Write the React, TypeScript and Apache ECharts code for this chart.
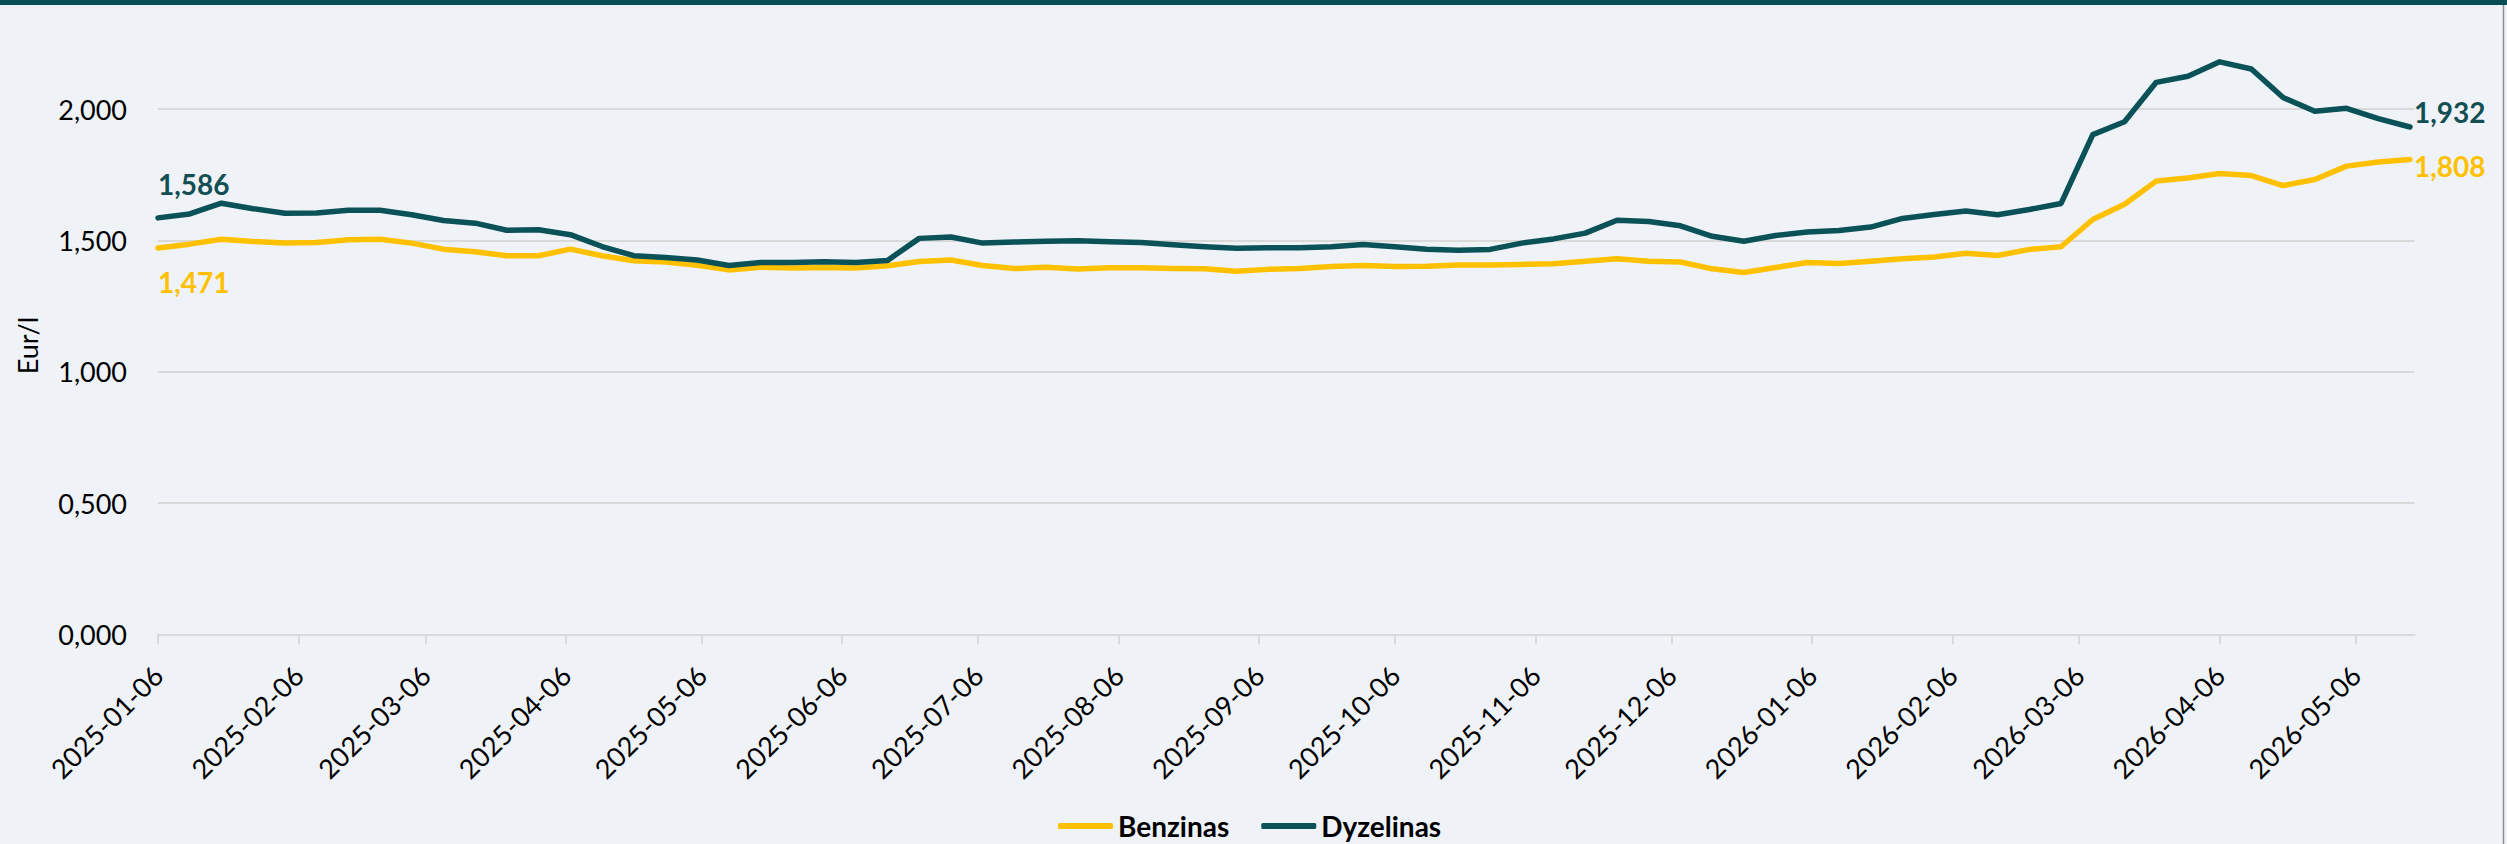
import React, { useEffect, useRef } from "react";
import * as echarts from "echarts";

// Weekly observation dates (Mondays)
const dates: string[] = [
  "2025-01-06", "2025-01-13", "2025-01-20", "2025-01-27", "2025-02-03", "2025-02-10", "2025-02-17", "2025-02-24",
  "2025-03-03", "2025-03-10", "2025-03-17", "2025-03-24", "2025-03-31", "2025-04-07", "2025-04-14", "2025-04-21",
  "2025-04-28", "2025-05-05", "2025-05-12", "2025-05-19", "2025-05-26", "2025-06-02", "2025-06-09", "2025-06-16",
  "2025-06-23", "2025-06-30", "2025-07-07", "2025-07-14", "2025-07-21", "2025-07-28", "2025-08-04", "2025-08-11",
  "2025-08-18", "2025-08-25", "2025-09-01", "2025-09-08", "2025-09-15", "2025-09-22", "2025-09-29", "2025-10-06",
  "2025-10-13", "2025-10-20", "2025-10-27", "2025-11-03", "2025-11-10", "2025-11-17", "2025-11-24", "2025-12-01",
  "2025-12-08", "2025-12-15", "2025-12-22", "2025-12-29", "2026-01-05", "2026-01-12", "2026-01-19", "2026-01-26",
  "2026-02-02", "2026-02-09", "2026-02-16", "2026-02-23", "2026-03-02", "2026-03-09", "2026-03-16", "2026-03-23",
  "2026-03-30", "2026-04-06", "2026-04-13", "2026-04-20", "2026-04-27", "2026-05-04", "2026-05-11", "2026-05-18",
];

const benzinas: number[] = [
  1.471, 1.486, 1.505, 1.496, 1.49, 1.492, 1.503, 1.505, 1.49, 1.467, 1.457, 1.442, 1.442, 1.467, 1.442, 1.423,
  1.418, 1.406, 1.388, 1.398, 1.395, 1.397, 1.395, 1.404, 1.42, 1.426, 1.405, 1.393, 1.398, 1.391, 1.396, 1.396,
  1.393, 1.392, 1.383, 1.39, 1.393, 1.401, 1.405, 1.401, 1.402, 1.407, 1.407, 1.409, 1.411, 1.421, 1.43, 1.421,
  1.418, 1.392, 1.378, 1.397, 1.416, 1.412, 1.421, 1.43, 1.437, 1.451, 1.443, 1.466, 1.476, 1.58, 1.638, 1.726,
  1.738, 1.755, 1.747, 1.709, 1.732, 1.783, 1.799, 1.808,
];

const dyzelinas: number[] = [
  1.586, 1.601, 1.642, 1.621, 1.604, 1.605, 1.615, 1.615, 1.598, 1.576, 1.566, 1.539, 1.541, 1.522, 1.477, 1.442,
  1.435, 1.426, 1.405, 1.416, 1.416, 1.419, 1.416, 1.424, 1.508, 1.513, 1.49, 1.494, 1.497, 1.499, 1.495, 1.492,
  1.484, 1.476, 1.47, 1.472, 1.472, 1.476, 1.485, 1.476, 1.467, 1.463, 1.466, 1.49, 1.506, 1.528, 1.577, 1.572,
  1.556, 1.516, 1.497, 1.519, 1.532, 1.538, 1.551, 1.584, 1.599, 1.612, 1.598, 1.618, 1.641, 1.903, 1.952, 2.102,
  2.125, 2.18, 2.153, 2.044, 1.992, 2.003, 1.964, 1.932,
];

const tickDates: string[] = [
  "2025-01-06", "2025-02-06", "2025-03-06", "2025-04-06", "2025-05-06", "2025-06-06", "2025-07-06", "2025-08-06",
  "2025-09-06", "2025-10-06", "2025-11-06", "2025-12-06", "2026-01-06", "2026-02-06", "2026-03-06", "2026-04-06",
  "2026-05-06",
];

const axisStart = "2025-01-06";
const axisEnd = "2026-05-19";

const seriesNames = ["Benzinas", "Dyzelinas"];
const BENZ_COLOR = "#FFC000";
const DYZ_COLOR = "#0B5258";
const DYZ_LABEL = "#124E52";
const FONT = "Lato";

const toMs = (s: string) => {
  const [y, m, d] = s.split("-").map(Number);
  return new Date(y, m - 1, d).getTime();
};
const pad = (n: number) => (n < 10 ? "0" + n : "" + n);
const fmtDate = (ms: number) => {
  const d = new Date(Math.round(ms));
  return `${d.getFullYear()}-${pad(d.getMonth() + 1)}-${pad(d.getDate())}`;
};
const fmtNum = (v: number) => v.toFixed(3).replace(".", ",");

export default function App() {
  const ref = useRef<HTMLDivElement>(null);

  useEffect(() => {
    document.body.style.margin = "0";
    if (!ref.current) return;
    const chart = echarts.init(ref.current, undefined, { renderer: "svg" });

    const labelBase = {
      show: true,
      align: "left",
      verticalAlign: "middle",
      fontFamily: FONT,
      fontWeight: "bold",
      fontSize: 28,
      formatter: (p: any) => fmtNum(p.value[1]),
    };

    const benzData = dates.map((d, i) =>
      i === 0
        ? { value: [toMs(d), benzinas[i]], label: { ...labelBase, position: "bottom", distance: 34, color: BENZ_COLOR } }
        : [toMs(d), benzinas[i]]
    );
    const dyzData = dates.map((d, i) =>
      i === 0
        ? { value: [toMs(d), dyzelinas[i]], label: { ...labelBase, position: "top", distance: 34, color: DYZ_LABEL } }
        : [toMs(d), dyzelinas[i]]
    );

    const tickMs = tickDates.map(toMs);

    const option: any = {
      animation: false,
      backgroundColor: "#EFF3F7",
      textStyle: { fontFamily: FONT },
      grid: { left: 158, right: 92.5, top: 56.6, bottom: 209.5, containLabel: false },
      legend: {
        data: seriesNames,
        left: 1053,
        top: 806,
        height: 30,
        icon: "roundRect",
        itemWidth: 55,
        itemHeight: 6,
        itemGap: 32,
        textStyle: { fontFamily: FONT, fontSize: 28, lineHeight: 30, fontWeight: "bold", color: "#000" },
      },
      xAxis: {
        type: "value",
        min: toMs(axisStart),
        max: toMs(axisEnd),
        axisLine: { show: true, lineStyle: { color: "#D9D9D9", width: 2 } },
        axisTick: {
          show: true,
          length: 10,
          customValues: tickMs,
          lineStyle: { color: "#D9D9D9", width: 2 },
        },
        axisLabel: {
          show: true,
          customValues: tickMs,
          rotate: 45,
          margin: 36,
          fontFamily: FONT,
          fontSize: 27,
          color: "#000",
          hideOverlap: false,
          formatter: (v: number) => fmtDate(v),
        },
        splitLine: { show: false },
      },
      yAxis: {
        type: "value",
        min: 0,
        max: 2.2,
        interval: 0.5,
        name: "Eur/l",
        nameLocation: "middle",
        nameGap: 117,
        nameTextStyle: { fontFamily: FONT, fontSize: 27, color: "#000" },
        axisLine: { show: false },
        axisTick: { show: false },
        axisLabel: {
          margin: 31,
          fontFamily: FONT,
          fontSize: 27,
          color: "#000",
          formatter: (v: number) => (Math.abs(v / 0.5 - Math.round(v / 0.5)) < 1e-9 ? fmtNum(v) : ""),
        },
        splitLine: { show: true, showMaxLine: false, lineStyle: { color: "#D9D9D9", width: 2 } },
      },
      graphic: [
        { type: "rect", left: 0, top: 0, shape: { width: 2507, height: 5 }, style: { fill: "#0A4E55" }, silent: true },
        {
          type: "line",
          shape: { x1: 2503.5, y1: 5, x2: 2503.5, y2: 844 },
          style: { stroke: "#8A8F93", lineWidth: 1.5 },
          silent: true,
        },
      ],
      series: [
        {
          name: seriesNames[0],
          type: "line",
          data: benzData,
          color: BENZ_COLOR,
          symbol: "circle",
          symbolSize: 0,
          showSymbol: true,
          showAllSymbol: true,
          silent: true,
          emphasis: { disabled: true },
          lineStyle: { color: BENZ_COLOR, width: 5.5, cap: "round", join: "round" },
          endLabel: {
            show: true,
            distance: 4,
            offset: [0, 6.5],
            fontFamily: FONT,
            fontWeight: "bold",
            fontSize: 28,
            color: BENZ_COLOR,
            formatter: (p: any) => fmtNum(p.value[1]),
          },
        },
        {
          name: seriesNames[1],
          type: "line",
          data: dyzData,
          color: DYZ_COLOR,
          symbol: "circle",
          symbolSize: 0,
          showSymbol: true,
          showAllSymbol: true,
          silent: true,
          emphasis: { disabled: true },
          lineStyle: { color: DYZ_COLOR, width: 5.5, cap: "round", join: "round" },
          endLabel: {
            show: true,
            distance: 4,
            offset: [0, -14.5],
            fontFamily: FONT,
            fontWeight: "bold",
            fontSize: 28,
            color: DYZ_LABEL,
            formatter: (p: any) => fmtNum(p.value[1]),
          },
        },
      ],
    };

    chart.setOption(option);
    return () => chart.dispose();
  }, []);

  return (
    <div
      ref={ref}
      style={{ position: "fixed", left: 0, top: 0, width: "2507px", height: "844px" }}
    />
  );
}
